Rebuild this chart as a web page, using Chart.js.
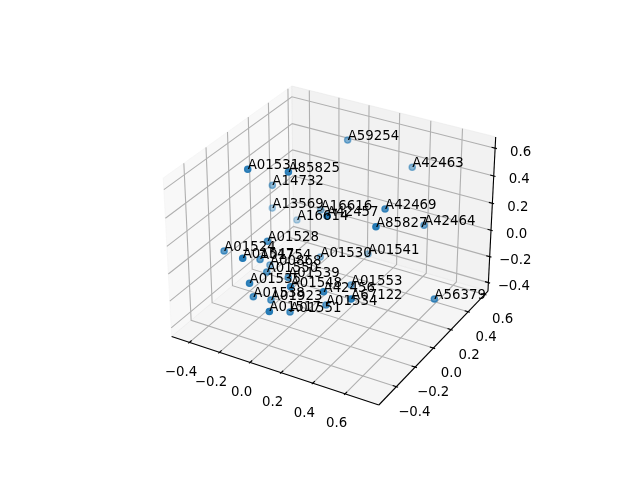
<!DOCTYPE html>
<html>
<head>
<meta charset="utf-8">
<script src="https://cdn.jsdelivr.net/npm/chart.js@4"></script>
<style>body { margin: 0; background: #fff; }</style>
</head>
<body>
<canvas id="chart" width="640" height="480"></canvas>
<script>
const names = ["A59254","A42463","A01531","A85825","A14732","A13569","A16614","A16616","A42457","A42469","A85827","A42464","A01541","A01528","A01524","A01547","A01754","A00868","A01550","A01539","A01535","A01548","A01538","A01923","A01517","A01551","A01530","A01553","A42456","A67122","A01534","A56379"];
const xValues = [0.032,0.366,-0.244,-0.048,-0.296,-0.335,-0.218,-0.046,0.239,0.417,0.461,0.546,0.230,-0.123,-0.342,-0.122,-0.157,-0.195,-0.107,0.004,-0.080,0.096,-0.114,-0.048,0.075,0.083,0.019,0.274,0.281,0.442,0.224,0.757];
const yValues = [0.359,0.502,-0.209,-0.113,0.096,0.148,0.221,0.202,-0.182,0.121,-0.048,0.329,0.261,-0.214,-0.312,-0.449,-0.239,-0.090,-0.250,-0.207,-0.452,-0.323,-0.372,-0.301,-0.497,-0.312,0.094,0.007,-0.285,-0.266,-0.171,0.084];
const zValues = [0.587,0.409,0.613,0.599,0.308,0.097,0.001,0.142,0.419,0.344,0.333,0.142,-0.134,0.140,0.058,0.165,0.012,-0.137,-0.057,-0.087,0.001,-0.047,-0.162,-0.210,-0.119,-0.245,-0.122,-0.189,-0.044,-0.053,-0.238,-0.175];
const tickValues = [-0.4,-0.2,0,0.2,0.4,0.6];
const tickLabels = ["\u22120.4","\u22120.2","0.0","0.2","0.4","0.6"];
const xLim = [-0.52,0.806];
const yLim = [-0.58,0.64];
const zLim = [-0.466,0.68];

// same camera as a default mplot3d axes
const box = [1.3072,1.3072,0.994];
const center = [0.6536,0.6536,0.4902];
const el = 30 * Math.PI / 180, az = -60 * Math.PI / 180, dist = 10;
const scalePx = 1814, originX = 333, originY = 238.2;

const dot = (a, b) => a[0]*b[0] + a[1]*b[1] + a[2]*b[2];
const cross = (a, b) => [a[1]*b[2]-a[2]*b[1], a[2]*b[0]-a[0]*b[2], a[0]*b[1]-a[1]*b[0]];
const w = [Math.cos(el)*Math.cos(az), Math.cos(el)*Math.sin(az), Math.sin(el)];
let u = cross([0,0,1], w);
const uLen = Math.hypot(...u);
u = u.map(a => a / uLen);
const v = cross(w, u);
const eye = center.map((c, i) => c + dist * w[i]);

function project(x, y, z) {
    const p = [
        (x - xLim[0]) / (xLim[1] - xLim[0]) * box[0],
        (y - yLim[0]) / (yLim[1] - yLim[0]) * box[1],
        (z - zLim[0]) / (zLim[1] - zLim[0]) * box[2]
    ];
    const d = p.map((a, i) => a - eye[i]);
    const depth = -dot(w, d);
    return { x: dot(u, d) / depth, y: dot(v, d) / depth, depth: depth };
}

function path(points, color, width) {
    return {
        data: points.map(p => project(p[0], p[1], p[2])),
        showLine: true, borderColor: color, borderWidth: width,
        pointRadius: 0, fill: false, tension: 0
    };
}

function pane(points, color) {
    const d = path(points.concat([points[0]]), color, 1);
    d.backgroundColor = color;
    d.fill = 'shape';
    return d;
}

const [x0, x1] = xLim, [y0, y1] = yLim, [z0, z1] = zLim;
const datasets = [];

datasets.push(pane([[x0,y0,z0],[x0,y1,z0],[x0,y1,z1],[x0,y0,z1]], 'rgba(242,242,242,0.5)'));
datasets.push(pane([[x0,y1,z0],[x1,y1,z0],[x1,y1,z1],[x0,y1,z1]], 'rgba(230,230,230,0.5)'));
datasets.push(pane([[x0,y0,z0],[x1,y0,z0],[x1,y1,z0],[x0,y1,z0]], 'rgba(236,236,236,0.5)'));

tickValues.forEach(t => {
    datasets.push(path([[t,y0,z0],[t,y1,z0],[t,y1,z1]], '#b0b0b0', 1.1));
    datasets.push(path([[x1,t,z0],[x0,t,z0],[x0,t,z1]], '#b0b0b0', 1.1));
    datasets.push(path([[x0,y0,t],[x0,y1,t],[x1,y1,t]], '#b0b0b0', 1.1));
});

datasets.push(path([[x0,y0,z0],[x1,y0,z0]], '#000', 1.1));
datasets.push(path([[x1,y0,z0],[x1,y1,z0]], '#000', 1.1));
datasets.push(path([[x1,y1,z0],[x1,y1,z1]], '#000', 1.1));

const dx = (x1 - x0) / 12, dy = (y1 - y0) / 12;
tickValues.forEach(t => {
    datasets.push(path([[t,y0-0.1*dy,z0],[t,y0+0.2*dy,z0]], '#000', 1.1));
    datasets.push(path([[x1+0.1*dx,t,z0],[x1-0.2*dx,t,z0]], '#000', 1.1));
    datasets.push(path([[x1+0.1*dx,y1,t],[x1-0.2*dx,y1,t]], '#000', 1.1));
});

// far points first, shaded by depth
const projected = names.map((n, i) => project(xValues[i], yValues[i], zValues[i]));
const depths = projected.map(p => p.depth);
const dMin = Math.min(...depths), dMax = Math.max(...depths);
const order = names.map((n, i) => i).sort((a, b) => depths[b] - depths[a]);
const pointColor = order.map(i => `rgba(31,119,180,${1 - 0.7 * (depths[i] - dMin) / (dMax - dMin)})`);
datasets.push({
    data: order.map(i => projected[i]),
    showLine: false,
    pointRadius: 3.1,
    pointBorderWidth: 1.4,
    pointBackgroundColor: pointColor,
    pointBorderColor: pointColor
});

const textPlugin = {
    id: 'texts',
    afterDatasetsDraw(chart) {
        const ctx = chart.ctx, sx = chart.scales.x, sy = chart.scales.y;
        ctx.save();
        ctx.fillStyle = '#000';
        ctx.font = '13.33px "DejaVu Sans"';
        ctx.textAlign = 'left';
        ctx.textBaseline = 'alphabetic';
        names.forEach((n, i) => {
            ctx.fillText(n, sx.getPixelForValue(projected[i].x), sy.getPixelForValue(projected[i].y));
        });
        ctx.textAlign = 'center';
        ctx.textBaseline = 'middle';
        const put = (p, text, ox, oy) => {
            ctx.fillText(text, sx.getPixelForValue(p.x) + ox, sy.getPixelForValue(p.y) + oy);
        };
        tickValues.forEach((t, i) => {
            put(project(t, y0, z0), tickLabels[i], -8.5, 30);
            put(project(x1, t, z0), tickLabels[i], 18, 25.5);
            put(project(x1, y1, t), tickLabels[i], 25.5, 4);
        });
        ctx.restore();
    }
};

new Chart(document.getElementById('chart'), {
    type: 'scatter',
    data: { datasets: datasets.reverse() },
    options: {
        responsive: false,
        animation: false,
        layout: { padding: 0, autoPadding: false },
        plugins: { legend: { display: false }, tooltip: { enabled: false } },
        scales: {
            x: { display: false, min: -originX / scalePx, max: (640 - originX) / scalePx },
            y: { display: false, min: (originY - 480) / scalePx, max: originY / scalePx }
        }
    },
    plugins: [textPlugin]
});
</script>
</body>
</html>
